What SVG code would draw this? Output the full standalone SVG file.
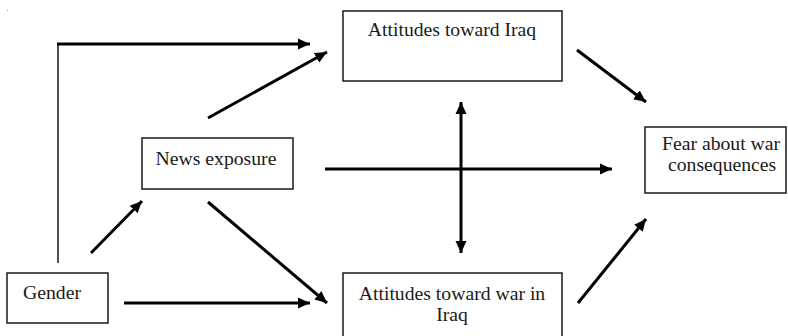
<svg xmlns="http://www.w3.org/2000/svg" width="788" height="336" viewBox="0 0 788 336">
<style>
.box{fill:#fff;stroke:#1a1a1a;stroke-width:1.5}
.lbl{font-family:"Liberation Serif","Times New Roman",serif;font-size:19.7px;fill:#1a1a1a}
.c{text-anchor:middle}
.arr{stroke:#000;stroke-width:3;fill:none}
.thin{stroke:#222;stroke-width:1.6;fill:none}
</style>
<defs>
<marker id="ah" markerUnits="userSpaceOnUse" markerWidth="13" markerHeight="12" refX="12" refY="6" orient="auto-start-reverse">
<path d="M0,0.5 L12,6 L0,11.5 z" fill="#000"/>
</marker>
</defs>
<rect x="7" y="10" width="1" height="1" fill="#999"/>
<g id="connectors">
<path class="thin" d="M58,263 V44"/>
<path class="arr" d="M57,44 H310" marker-end="url(#ah)"/>
<path class="arr" d="M208,118 L327,52" marker-end="url(#ah)"/>
<path class="arr" d="M577,50 L646,102" marker-end="url(#ah)"/>
<path class="arr" d="M325,169 H612" marker-end="url(#ah)"/>
<path class="arr" d="M461,102 V253" marker-start="url(#ah)" marker-end="url(#ah)"/>
<path class="arr" d="M91,253 L142,201" marker-end="url(#ah)"/>
<path class="arr" d="M208,202 L327,303" marker-end="url(#ah)"/>
<path class="arr" d="M124,303 H310" marker-end="url(#ah)"/>
<path class="arr" d="M578,303 L646,219" marker-end="url(#ah)"/>
</g>
<g id="attitudes-iraq">
<rect class="box" x="343" y="11" width="219" height="70"/>
<text class="lbl c" x="452" y="36">Attitudes toward Iraq</text>
</g>
<g id="news-exposure">
<rect class="box" x="142" y="138" width="151" height="51"/>
<text class="lbl c" x="216" y="165">News exposure</text>
</g>
<g id="fear">
<rect class="box" x="645" y="127" width="141" height="66"/>
<text class="lbl" x="662" y="150">Fear about war</text>
<text class="lbl" x="668" y="171">consequences</text>
</g>
<g id="gender">
<rect class="box" x="7" y="273" width="101" height="50"/>
<text class="lbl" x="23" y="299">Gender</text>
</g>
<g id="attitudes-war">
<rect class="box" x="343" y="273" width="219" height="70"/>
<text class="lbl c" x="452" y="300">Attitudes toward war in</text>
<text class="lbl c" x="452" y="321">Iraq</text>
</g>
</svg>
